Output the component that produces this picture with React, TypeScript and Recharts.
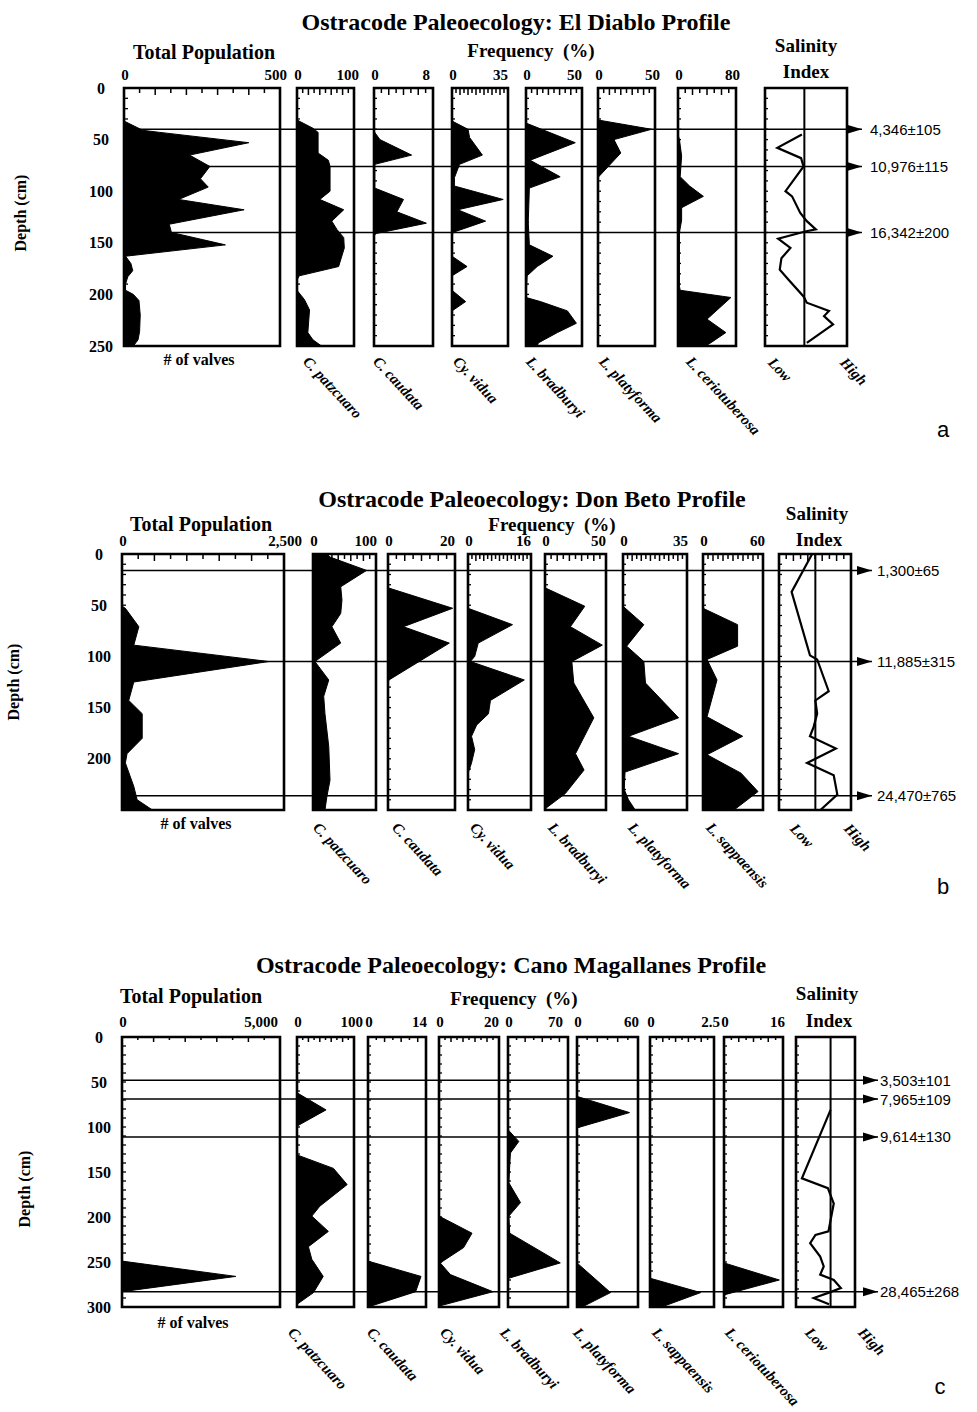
import { ComposedChart, Area, Line, XAxis, YAxis, ReferenceArea, ReferenceLine } from 'recharts';

type Pt = [number, number]; // [depth (cm), value]

// ---------- El Diablo (a) ----------
const aTotal: Pt[] = [[0, 0], [32, 0], [41, 60], [43, 115], [53, 400], [65, 210], [76, 275], [88, 245], [96, 270], [108, 175], [118, 385], [132, 145], [140, 152], [152, 325], [163, 5], [170, 22], [177, 28], [183, 12], [190, 5], [196, 5], [200, 30], [206, 48], [220, 52], [236, 50], [244, 45], [250, 30]];
const aPatz: Pt[] = [[0, 0], [31, 0], [39, 28], [43, 37], [63, 37], [70, 55], [76, 58], [100, 58], [108, 40], [118, 82], [129, 61], [137, 70], [145, 82], [155, 83], [173, 73], [182, 4], [186, 0], [196, 0], [205, 13], [215, 22], [237, 19], [244, 28], [250, 43]];
const aCaud: Pt[] = [[0, 0], [42, 0], [50, 0.8], [65, 5.1], [74, 0.1], [97, 0.1], [108, 4], [120, 3.1], [131, 7.1], [141, 0.3], [143, 0], [250, 0]];
const aVidua: Pt[] = [[0, 0], [32, 0], [40, 10], [48, 11], [65, 19], [74, 4.7], [87, 1.5], [95, 1.5], [108, 32], [118, 3.6], [129, 21], [140, 0.4], [163, 0], [173, 9.4], [182, 0], [196, 0], [207, 8.5], [216, 0], [250, 0]];
const aBrad: Pt[] = [[0, 0], [34, 0], [53, 44], [70, 3.7], [86, 30.5], [97, 3], [130, 2], [152, 3], [163, 24], [173, 10], [182, 1], [203, 0], [207, 13], [216, 37], [228, 45], [237, 28], [247, 11], [250, 10]];
const aPlaty: Pt[] = [[0, 0], [31, 0], [40, 47], [50, 14], [63, 20], [86, 0.6], [88, 0], [250, 0]];
const aCerio: Pt[] = [[0, 0], [45, 0], [50, 2], [66, 5], [86, 3], [95, 16], [105, 35], [116, 5], [128, 5], [140, 2], [192, 2], [196, 3], [203, 73], [224, 40], [237, 66], [247, 45], [250, 38]];
const aSal: Pt[] = [[45, 0.45], [58, 0.15], [68, 0.44], [76, 0.47], [100, 0.25], [105, 0.33], [121, 0.43], [129, 0.51], [137, 0.62], [139, 0.49], [146, 0.16], [155, 0.31], [165, 0.2], [176, 0.18], [186, 0.29], [202, 0.47], [208, 0.51], [216, 0.78], [221, 0.72], [229, 0.83], [247, 0.51]];
const aDates = [40, 76, 140];
const aDateLabels = ['4,346±105', '10,976±115', '16,342±200'];

// ---------- Don Beto (b) ----------
const bTotal: Pt[] = [[0, 0], [51, 0], [53, 52], [71, 260], [89, 182], [105, 2265], [125, 182], [143, 104], [156, 312], [180, 312], [195, 78], [204, 52], [227, 182], [240, 234], [250, 470]];
const bPatz: Pt[] = [[0, 22], [3, 27], [16, 85], [32, 44], [45, 46], [58, 44], [71, 30], [87, 44], [105, 3], [123, 25], [139, 17], [156, 19], [188, 25], [221, 27], [237, 22], [250, 19]];
const bCaud: Pt[] = [[0, 0], [33, 0], [53, 19.3], [71, 4.6], [87, 18.3], [123, 0.3], [125, 0], [250, 0]];
const bVidua: Pt[] = [[0, 0], [53, 0], [69, 11.3], [87, 2.6], [100, 1.7], [105, 0.6], [123, 14.3], [143, 5.7], [156, 5.2], [167, 2.2], [178, 0.9], [191, 1.7], [204, 0.9], [211, 0.3], [214, 0], [250, 0]];
const bBrad: Pt[] = [[0, 0], [33, 0], [51, 32.6], [71, 20.8], [89, 47], [105, 22], [126, 23.6], [160, 40], [195, 25], [211, 32], [234, 16.6], [248, 1], [250, 0]];
const bPlaty: Pt[] = [[0, 0], [51, 0], [69, 11.4], [90, 2], [105, 11.4], [126, 12.3], [160, 30.4], [178, 3], [195, 30.4], [213, 1.1], [230, 0.7], [240, 3], [250, 6.7]];
const bSapp: Pt[] = [[0, 0], [53, 0], [69, 34.6], [90, 34.6], [103, 4], [123, 14], [159, 4], [178, 39.7], [196, 4], [214, 38], [232, 55], [250, 31]];
const bSal: Pt[] = [[0, 0.46], [37, 0.175], [99, 0.43], [103, 0.53], [134, 0.69], [143, 0.505], [156, 0.53], [169, 0.48], [178, 0.43], [190, 0.79], [204, 0.39], [216, 0.76], [235, 0.81], [250, 0.575]];
const bDates = [16, 105, 236];
const bDateLabels = ['1,300±65', '11,885±315', '24,470±765'];

// ---------- Cano Magallanes (c) ----------
const cTotal: Pt[] = [[0, 0], [249, 0], [266, 3600], [283, 0], [300, 0]];
const cPatz: Pt[] = [[0, 0], [62, 0], [81, 51], [99, 0], [131, 0], [146, 64], [164, 88], [188, 40], [199, 26], [216, 55], [233, 20], [247, 26], [266, 46], [284, 29], [297, 0], [300, 0]];
const cCaud: Pt[] = [[0, 0], [249, 0], [266, 12.8], [283, 11.5], [300, 0]];
const cVidua: Pt[] = [[0, 0], [199, 0], [218, 11], [234, 8.2], [251, 0.4], [264, 3.8], [283, 18], [299, 0], [300, 0]];
const cBrad: Pt[] = [[0, 0], [103, 0], [116, 12.6], [129, 2.8], [162, 1], [184, 14.6], [199, 1], [218, 2], [251, 61], [268, 1], [270, 0], [300, 0]];
const cPlaty: Pt[] = [[0, 0], [66, 0], [84, 51.7], [101, 0], [251, 0], [284, 33], [300, 5]];
const cSapp: Pt[] = [[0, 0], [268, 0], [284, 1.98], [300, 0.45]];
const cCerio: Pt[] = [[0, 0], [251, 0], [270, 15], [286, 0.5], [288, 0], [300, 0]];
const cSal: Pt[] = [[81, 0.586], [157, 0.1], [168, 0.54], [185, 0.64], [216, 0.55], [220, 0.33], [229, 0.24], [244, 0.41], [255, 0.47], [264, 0.41], [270, 0.64], [279, 0.76], [284, 0.56], [290, 0.3], [297, 0.56]];
const cDates = [48, 69, 111, 283];
const cDateLabels = ['3,503±101', '7,965±109', '9,614±130', '28,465±268'];

const SERIF = '"Liberation Serif", "Times New Roman", serif';
const SANS = '"Liberation Sans", Arial, sans-serif';
const LH = 26; // band above each box for the scale labels
const PAD = 22;

type Strip = {
  left: number; width: number; max: number; pts: Pt[];
  maxLabel?: string; mo?: number; step?: number; name?: string; lx?: number; sal?: number; depth?: boolean;
};
type Head = { title: string; tx: number; ty: number; totX: number; totY: number; frX: number; frY: number; salX: number; salY: number; idxX: number; idxY: number; valX: number; valY: number; depX: number; depY: number; lowX: number; highX: number; hlY: number; letter: string; lX: number; lY: number };
type Panel = {
  top: number; height: number; depthMax: number; depthLabels: number[]; tick: number; labelGap: number;
  nameY: number; strips: Strip[]; dates: number[]; dateLabels: string[]; lineLeft: number; lineRight: number; dateGap: number; head: Head;
};

const steps = (max: number, step: number) =>
  Array.from({ length: Math.round(max / step) + 1 }, (_, i) => +(i * step).toFixed(4));

const panels: Panel[] = [
  {
    top: 88, height: 258, depthMax: 250, depthLabels: [0, 50, 100, 150, 200, 250], tick: 5, labelGap: 13, nameY: 354,
    strips: [
      { left: 124, width: 156, max: 500, maxLabel: '500', mo: 7, step: 50, pts: aTotal, depth: true },
      { left: 296, width: 58, max: 100, maxLabel: '100', mo: 5, step: 10, pts: aPatz, name: 'C. patzcuaro', lx: 15 },
      { left: 373, width: 60, max: 8, maxLabel: '8', mo: -3, step: 1, pts: aCaud, name: 'C. caudata', lx: 8 },
      { left: 451, width: 57, max: 35, maxLabel: '35', mo: 0, step: 2.5, pts: aVidua, name: 'Cy. vidua', lx: 10 },
      { left: 525, width: 57, max: 50, maxLabel: '50', mo: 0, step: 5, pts: aBrad, name: 'L. bradburyi', lx: 9 },
      { left: 597, width: 58, max: 50, maxLabel: '50', mo: 5, step: 5, pts: aPlaty, name: 'L. platyforma', lx: 10 },
      { left: 677, width: 59, max: 80, maxLabel: '80', mo: 4, step: 10, pts: aCerio, name: 'L. ceriotuberosa', lx: 17 },
      { left: 764, width: 83, max: 1, pts: aSal, sal: 0.48 },
    ],
    dates: aDates, dateLabels: aDateLabels, lineLeft: 124, lineRight: 862, dateGap: 8,
    head: { title: 'Ostracode Paleoecology: El Diablo Profile', tx: 516, ty: 22, totX: 204, totY: 52, frX: 531, frY: 50, salX: 806, salY: 45, idxX: 806, idxY: 71, valX: 199, valY: 360, depX: 21, depY: 213, lowX: 776, highX: 848, hlY: 355, letter: 'a', lX: 943, lY: 430 },
  },
  {
    top: 554, height: 256, depthMax: 250, depthLabels: [0, 50, 100, 150, 200], tick: 5, labelGap: 13, nameY: 820,
    strips: [
      { left: 122, width: 162, max: 2500, maxLabel: '2,500', mo: 18, step: 250, pts: bTotal, depth: true },
      { left: 312, width: 64, max: 100, maxLabel: '100', mo: 1, step: 10, pts: bPatz, name: 'C. patzcuaro', lx: 9 },
      { left: 387, width: 68, max: 20, maxLabel: '20', mo: 0, step: 2.5, pts: bCaud, name: 'C. caudata', lx: 13 },
      { left: 467, width: 64, max: 16, maxLabel: '16', mo: 0, step: 1, pts: bVidua, name: 'Cy. vidua', lx: 11 },
      { left: 544, width: 62, max: 50, maxLabel: '50', mo: 0, step: 5, pts: bBrad, name: 'L. bradburyi', lx: 12 },
      { left: 622, width: 65, max: 35, maxLabel: '35', mo: 1, step: 2.5, pts: bPlaty, name: 'L. platyforma', lx: 14 },
      { left: 702, width: 61, max: 60, maxLabel: '60', mo: 2, step: 5, pts: bSapp, name: 'L. sappaensis', lx: 12 },
      { left: 778, width: 73, max: 1, step: 0.1, pts: bSal, sal: 0.505 },
    ],
    dates: bDates, dateLabels: bDateLabels, lineLeft: 122, lineRight: 872, dateGap: 5,
    head: { title: 'Ostracode Paleoecology: Don Beto Profile', tx: 532, ty: 499, totX: 201, totY: 524, frX: 552, frY: 524, salX: 817, salY: 513, idxX: 819, idxY: 539, valX: 196, valY: 824, depX: 14, depY: 682, lowX: 798, highX: 852, hlY: 821, letter: 'b', lX: 943, lY: 887 },
  },
  {
    top: 1037, height: 270, depthMax: 300, depthLabels: [0, 50, 100, 150, 200, 250, 300], tick: 3, labelGap: 15, nameY: 1325,
    strips: [
      { left: 122, width: 158, max: 5000, maxLabel: '5,000', mo: -2, step: 500, pts: cTotal, depth: true },
      { left: 296, width: 58, max: 100, maxLabel: '100', mo: 9, step: 10, pts: cPatz, name: 'C. patzcuaro', lx: 0 },
      { left: 367, width: 59, max: 14, maxLabel: '14', mo: 1, step: 2, pts: cCaud, name: 'C. caudata', lx: 8 },
      { left: 438, width: 61, max: 20, maxLabel: '20', mo: 0, step: 2, pts: cVidua, name: 'Cy. vidua', lx: 10 },
      { left: 507, width: 61, max: 70, maxLabel: '70', mo: -5, step: 10, pts: cBrad, name: 'L. bradburyi', lx: 1 },
      { left: 576, width: 62, max: 60, maxLabel: '60', mo: 1, step: 10, pts: cPlaty, name: 'L. platyforma', lx: 5 },
      { left: 649, width: 65, max: 2.5, maxLabel: '2.5', mo: 6, step: 0.25, pts: cSapp, name: 'L. sappaensis', lx: 11 },
      { left: 723, width: 60, max: 16, maxLabel: '16', mo: 2, step: 2, pts: cCerio, name: 'L. ceriotuberosa', lx: 10 },
      { left: 795, width: 60, max: 1, pts: cSal, sal: 0.586 },
    ],
    dates: cDates, dateLabels: cDateLabels, lineLeft: 122, lineRight: 878, dateGap: 2,
    head: { title: 'Ostracode Paleoecology: Cano Magallanes Profile', tx: 511, ty: 965, totX: 191, totY: 996, frX: 514, frY: 998, salX: 827, salY: 993, idxX: 829, idxY: 1020, valX: 193, valY: 1323, depX: 25, depY: 1189, lowX: 813, highX: 866, hlY: 1325, letter: 'c', lX: 940, lY: 1387 },
  },
];

function StripChart({ s, p }: { s: Strip; p: Panel }) {
  const extra = s.depth ? 40 : 0;
  const x0 = PAD + extra;
  const data = s.pts.map(([d, v]) => ({ d, v }));
  const xTicks = s.step ? steps(s.max, s.step) : [0, s.max];
  const yTicks = steps(p.depthMax, 10);
  const lbl = { fontFamily: SERIF, fontWeight: 700, fontSize: 15, fill: '#000' };

  const topTick = (t: any) => {
    const v = t.payload.value;
    const isMax = Math.abs(v - s.max) < 1e-6;
    return (
      <g>
        {s.step ? (
          <line x1={t.x} x2={t.x} y1={LH} y2={LH + (t.index % 2 ? p.tick : p.tick + 2)} stroke="#000" strokeWidth={1.5} />
        ) : null}
        {s.maxLabel && v === 0 ? (
          <text x={t.x + 1} y={LH - p.labelGap} textAnchor="middle" dominantBaseline="central" style={lbl}>0</text>
        ) : null}
        {s.maxLabel && isMax ? (
          <text x={t.x + (s.mo ?? 2)} y={LH - p.labelGap} textAnchor="end" dominantBaseline="central" style={lbl}>{s.maxLabel}</text>
        ) : null}
      </g>
    );
  };

  const leftTick = (t: any) => {
    const v = t.payload.value;
    return (
      <g>
        <line x1={x0} x2={x0 + 4} y1={t.y} y2={t.y} stroke="#000" strokeWidth={1.3} />
        {s.depth && p.depthLabels.includes(v) ? (
          <text x={x0 - 23} y={t.y} textAnchor="middle" dominantBaseline="central"
            style={{ fontFamily: SERIF, fontWeight: 700, fontSize: 16, fill: '#000' }}>{v}</text>
        ) : null}
      </g>
    );
  };

  return (
    <div style={{ position: 'absolute', left: s.left - x0, top: p.top - LH }}>
      <ComposedChart layout="vertical" width={s.width + x0 + PAD} height={LH + p.height + 8} data={data}
        margin={{ top: 0, right: PAD, bottom: 8, left: PAD }}>
        <XAxis type="number" orientation="top" domain={[0, s.max]} ticks={xTicks} interval={0} height={LH}
          tick={topTick} tickLine={false} axisLine={false} allowDataOverflow />
        <YAxis type="number" dataKey="d" domain={[0, p.depthMax]} ticks={yTicks} interval={0} width={extra || 1}
          tick={leftTick} tickLine={false} axisLine={false} allowDataOverflow />
        {s.sal === undefined ? (
          <Area type="linear" dataKey="v" stroke="#000" strokeWidth={1} fill="#000" fillOpacity={1}
            dot={false} activeDot={false} isAnimationActive={false} />
        ) : (
          <Line type="linear" dataKey="v" stroke="#000" strokeWidth={2.2} dot={false} activeDot={false} isAnimationActive={false} />
        )}
        {s.sal !== undefined ? <ReferenceLine x={s.sal} stroke="#000" strokeWidth={2} /> : null}
        <ReferenceArea x1={0} x2={s.max} y1={0} y2={p.depthMax} fill="none" stroke="#000" strokeWidth={2.6} ifOverflow="visible" />
      </ComposedChart>
    </div>
  );
}

function DateLines({ p }: { p: Panel }) {
  const w = p.lineRight - p.lineLeft;
  const arrow = (lp: any, text: string) => {
    const vb = lp.viewBox;
    const X = vb.x + vb.width;
    const Y = vb.y;
    return (
      <g>
        <polygon points={`${X},${Y} ${X - 15},${Y - 4.5} ${X - 15},${Y + 4.5}`} fill="#000" />
        <text x={X + p.dateGap} y={Y} dominantBaseline="central"
          style={{ fontFamily: SANS, fontSize: 15, fill: '#000' }}>{text}</text>
      </g>
    );
  };
  return (
    <div style={{ position: 'absolute', left: p.lineLeft, top: p.top }}>
      <ComposedChart width={w + 120} height={p.height} margin={{ top: 0, right: 120, bottom: 0, left: 0 }}
        data={[{ x: 0, d: 0 }, { x: 1, d: p.depthMax }]}>
        <XAxis type="number" dataKey="x" domain={[0, 1]} hide />
        <YAxis type="number" dataKey="d" domain={[0, p.depthMax]} reversed hide />
        {p.dates.map((d, i) => (
          <ReferenceLine key={i} y={d} stroke="#000" strokeWidth={1.5}
            label={(lp: any) => arrow(lp, p.dateLabels[i])} />
        ))}
      </ComposedChart>
    </div>
  );
}

function T({ x, y, children, size = 19, font = SERIF, bold = true, rot = 0 }: any) {
  return (
    <div style={{
      position: 'absolute', left: x, top: y, transform: `translate(-50%, -50%) rotate(${rot}deg)`,
      fontFamily: font, fontWeight: bold ? 700 : 400, fontSize: size, lineHeight: 1, whiteSpace: 'pre', color: '#000',
    }}>{children}</div>
  );
}

function Slant({ x, y, children }: any) {
  return (
    <div style={{
      position: 'absolute', left: x, top: y, transform: 'rotate(47deg)', transformOrigin: '0 0',
      fontFamily: SERIF, fontWeight: 700, fontStyle: 'italic', fontSize: 15, lineHeight: 1, whiteSpace: 'nowrap', color: '#000',
    }}>{children}</div>
  );
}

function PanelView({ p }: { p: Panel }) {
  const h = p.head;
  return (
    <>
      <T x={h.tx} y={h.ty} size={24}>{h.title}</T>
      <T x={h.totX} y={h.totY} size={20}>Total Population</T>
      <T x={h.frX} y={h.frY}>{'Frequency  (%)'}</T>
      <T x={h.salX} y={h.salY}>Salinity</T>
      <T x={h.idxX} y={h.idxY}>Index</T>
      <T x={h.depX} y={h.depY} size={16} rot={-90}>Depth (cm)</T>
      <T x={h.valX} y={h.valY} size={16}># of valves</T>
      {p.strips.map((s, i) => <StripChart key={i} s={s} p={p} />)}
      <DateLines p={p} />
      {p.strips.filter((s) => s.name).map((s, i) => (
        <Slant key={i} x={s.left + (s.lx ?? 0)} y={p.nameY}>{s.name}</Slant>
      ))}
      <Slant x={h.lowX} y={h.hlY}>Low</Slant>
      <Slant x={h.highX} y={h.hlY}>High</Slant>
      <T x={h.lX} y={h.lY} size={22} font={SANS} bold={false}>{h.letter}</T>
    </>
  );
}

export default function App() {
  return (
    <div style={{ position: 'absolute', left: 0, top: 0, width: 977, height: 1412, background: '#fff', overflow: 'hidden' }}>
      {panels.map((p, i) => <PanelView key={i} p={p} />)}
    </div>
  );
}
